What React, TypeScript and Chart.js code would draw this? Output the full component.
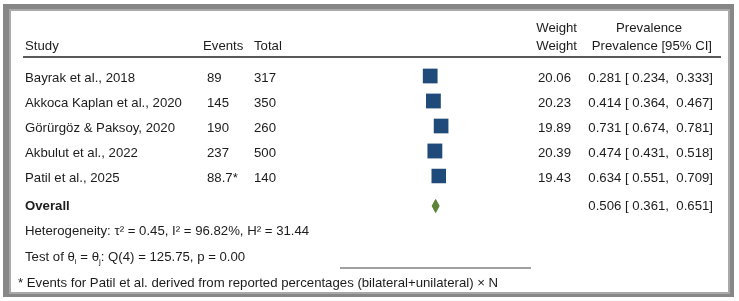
import React, { useEffect, useRef } from "react";
import { Chart, registerables } from "chart.js";

Chart.register(...registerables);

// ---------- data ----------
const studies = [
  "Bayrak et al., 2018",
  "Akkoca Kaplan et al., 2020",
  "Görürgöz & Paksoy, 2020",
  "Akbulut et al., 2022",
  "Patil et al., 2025",
];
const events = ["89", "145", "190", "237", "88.7*"];
const totals = [317, 350, 260, 500, 140];
const weights = [20.06, 20.23, 19.89, 20.39, 19.43];
const prevalence = [0.281, 0.414, 0.731, 0.474, 0.634];
const ciLow = [0.234, 0.364, 0.674, 0.431, 0.551];
const ciHigh = [0.333, 0.467, 0.781, 0.518, 0.709];
const rows = [1, 2, 3, 4, 5];

const overallRow = 6.2;
const overallPrev = 0.506;
const overallLow = 0.361;
const overallHigh = 0.651;

const heterogeneityText = "Heterogeneity: τ² = 0.45, I² = 96.82%, H² = 31.44";
const testParts = ["Test of θ", "i", " = θ", "j", ": Q(4) = 125.75, p = 0.00"];
const footnote =
  "* Events for Patil et al. derived from reported percentages (bilateral+unilateral) × N";

// ---------- styles ----------
const FONT = '"Liberation Sans", Arial, Helvetica, sans-serif';
const FS = 13.2;
const TEXT = "#1c1c1c";
const BLUE = "#1f4a7a";
const GREEN = "#5b8436";
const DIAMOND_HALF = 0.26;

const fmtCI = (p: number, lo: number, hi: number) =>
  `${p.toFixed(3)} [ ${lo.toFixed(3)},  ${hi.toFixed(3)}]`;

const tablePlugin = {
  id: "forestTable",
  beforeDraw(chart: any) {
    const ctx = chart.ctx as CanvasRenderingContext2D;
    const W = chart.width;
    const H = chart.height;
    ctx.save();
    ctx.fillStyle = "#ffffff";
    ctx.fillRect(0, 0, W, H);
    // frame
    ctx.fillStyle = "#878787";
    ctx.fillRect(3, 4, 731, 293);
    ctx.fillStyle = "#a9a9a9";
    ctx.fillRect(9, 9, 721, 285);
    ctx.fillStyle = "#ffffff";
    ctx.fillRect(11, 11, 717, 281);
    ctx.restore();
  },
  afterDraw(chart: any) {
    const ctx = chart.ctx as CanvasRenderingContext2D;
    const y = chart.scales.y;
    ctx.save();
    ctx.fillStyle = TEXT;
    ctx.textBaseline = "middle";
    ctx.font = `${FS}px ${FONT}`;

    // headers
    const h1 = 28.5;
    const h2 = 46;
    ctx.textAlign = "left";
    ctx.fillText("Study", 25, h2);
    ctx.fillText("Events", 203, h2);
    ctx.fillText("Total", 254, h2);
    ctx.textAlign = "right";
    ctx.fillText("Weight", 577, h1);
    ctx.fillText("Weight", 577, h2);
    ctx.fillText("Prevalence [95% CI]", 712, h2);
    ctx.textAlign = "center";
    ctx.fillText("Prevalence", 649, h1);

    ctx.strokeStyle = "#222";
    ctx.lineWidth = 1.5;
    ctx.beginPath();
    ctx.moveTo(23, 57);
    ctx.lineTo(721, 57);
    ctx.stroke();

    // study rows
    rows.forEach((r, i) => {
      const py = y.getPixelForValue(r) + 2.5;
      ctx.textAlign = "left";
      ctx.fillText(studies[i], 25, py);
      ctx.fillText(events[i], 207, py);
      ctx.fillText(String(totals[i]), 254, py);
      ctx.textAlign = "right";
      ctx.fillText(weights[i].toFixed(2), 571, py);
      ctx.fillText(fmtCI(prevalence[i], ciLow[i], ciHigh[i]), 713, py);
    });

    // overall
    const oy = y.getPixelForValue(overallRow) + 0.5;
    ctx.textAlign = "left";
    ctx.font = `bold ${FS}px ${FONT}`;
    ctx.fillText("Overall", 25, oy);
    ctx.font = `${FS}px ${FONT}`;
    ctx.textAlign = "right";
    ctx.fillText(fmtCI(overallPrev, overallLow, overallHigh), 713, oy);

    ctx.textAlign = "left";
    ctx.fillText(heterogeneityText, 25, 231.5);

    // test line with subscripts
    let x = 25;
    const ty = 257;
    testParts.forEach((part, i) => {
      const sub = i === 1 || i === 3;
      ctx.font = sub ? `8px ${FONT}` : `${FS}px ${FONT}`;
      ctx.fillText(part, x, sub ? ty + 5 : ty);
      x += ctx.measureText(part).width;
    });

    ctx.font = `${FS}px ${FONT}`;
    ctx.fillText(footnote, 18, 283.5);
    ctx.restore();
  },
};

export default function App() {
  const ref = useRef<HTMLCanvasElement | null>(null);

  useEffect(() => {
    if (!ref.current) return;
    const ciData: any[] = [];
    rows.forEach((r, i) => {
      ciData.push({ x: ciLow[i], y: r }, { x: ciHigh[i], y: r }, { x: prevalence[i], y: null });
    });
    const meanW = weights.reduce((a, b) => a + b, 0) / weights.length;
    const chart = new Chart(ref.current, {
      type: "scatter",
      data: {
        datasets: [
          {
            type: "line",
            data: ciData,
            borderColor: BLUE,
            borderWidth: 1,
            pointRadius: 0,
            spanGaps: false,
            fill: false,
          } as any,
          {
            data: rows.map((r, i) => ({ x: prevalence[i], y: r })),
            pointStyle: "rect",
            pointRadius: weights.map((w) => 10.4 * Math.sqrt(w / meanW)),
            pointHoverRadius: weights.map((w) => 10.4 * Math.sqrt(w / meanW)),
            backgroundColor: BLUE,
            borderColor: BLUE,
            borderWidth: 0,
          },
          {
            type: "line",
            data: [
              { x: overallLow, y: overallRow },
              { x: overallPrev, y: overallRow - DIAMOND_HALF },
              { x: overallHigh, y: overallRow },
            ],
            borderColor: GREEN,
            backgroundColor: GREEN,
            borderWidth: 1,
            pointRadius: 0,
            tension: 0,
            fill: { value: overallRow },
          } as any,
          {
            type: "line",
            data: [
              { x: overallLow, y: overallRow },
              { x: overallPrev, y: overallRow + DIAMOND_HALF },
              { x: overallHigh, y: overallRow },
            ],
            borderColor: GREEN,
            backgroundColor: GREEN,
            borderWidth: 1,
            pointRadius: 0,
            tension: 0,
            fill: { value: overallRow },
          } as any,
        ],
      },
      options: {
        animation: false,
        responsive: false,
        devicePixelRatio: 1,
        layout: { padding: { left: 341, right: 209, top: 51, bottom: 33 } },
        plugins: {
          legend: { display: false },
          tooltip: { enabled: false },
        },
        scales: {
          x: {
            type: "linear",
            min: -3.4,
            max: 4.4,
            ticks: { display: false },
            grid: { display: false, drawTicks: false },
            border: { display: true, color: "#a0a0a0", width: 2 },
          },
          y: {
            type: "linear",
            reverse: true,
            min: 0,
            max: 8.68,
            display: false,
          },
        },
      },
      plugins: [tablePlugin],
    });
    return () => chart.destroy();
  }, []);

  return (
    <div style={{ position: "fixed", left: 0, top: 0, width: 739, height: 301 }}>
      <canvas ref={ref} width={739} height={301} />
    </div>
  );
}
